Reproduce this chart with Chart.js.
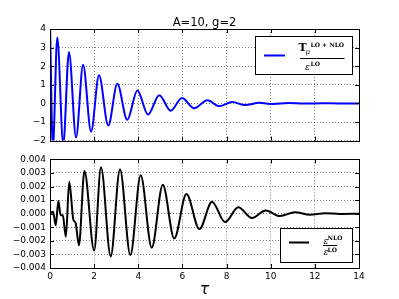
<!DOCTYPE html>
<html>
<head>
<meta charset="utf-8">
<script src="https://cdn.jsdelivr.net/npm/chart.js@4/dist/chart.umd.min.js"></script>
<style>
  html, body { margin: 0; padding: 0; background: #fff; }
  #top { position: absolute; left: 0; top: 0; width: 399px; height: 150px; }
  #bot { position: absolute; left: 0; top: 150px; width: 399px; height: 149px; }
</style>
</head>
<body>
<div id="top"><canvas id="c1"></canvas></div>
<div id="bot"><canvas id="c2"></canvas></div>
<script>
// tau at the turning points of the curves
var tauTop = [0, 0.13, 0.33, 0.60, 0.86, 1.18, 1.50, 1.86, 2.22, 2.64, 3.05, 3.50, 3.96, 4.44, 4.95, 5.47, 5.98, 6.53, 7.13, 7.67, 8.26, 8.84, 9.48, 10.1, 10.8, 11.5, 12.3, 13.1, 14];
var traceRatio = [4.3, -2.4, 3.54, -2.2, 2.77, -1.83, 2.08, -1.52, 1.51, -1.19, 1.05, -0.88, 0.70, -0.60, 0.44, -0.39, 0.29, -0.26, 0.17, -0.15, 0.07, -0.09, 0.03, -0.03, 0.02, -0.01, 0.01, -0.005, 0];

var tauBot = [0, 0.14, 0.26, 0.38, 0.48, 0.58, 0.72, 0.87, 1.06, 1.16, 1.31, 1.56, 2.00, 2.31, 2.75, 3.17, 3.64, 4.11, 4.61, 5.11, 5.63, 6.18, 6.77, 7.34, 7.93, 8.53, 9.15, 9.77, 10.42, 11.10, 11.78, 12.46, 13.14, 14];
var epsRatio = [0, 0.00014, -0.00085, 0.00094, -0.0001, -0.00012, -0.0017, 0.00235, -0.00044, -0.00067, -0.00232, 0.00315, -0.00272, 0.00342, -0.00315, 0.00328, -0.00305, 0.00283, -0.00251, 0.00214, -0.00182, 0.00145, -0.00113, 0.00088, -0.00062, 0.00048, -0.00032, 0.00023, -0.00017, 0.00011, -0.00007, 0.00004, -0.00002, 0];

var xTicks = [0, 2, 4, 6, 8, 10, 12, 14];
var title = 'A=10, g=2';

function pts(xs, ys) {
  var out = [];
  for (var i = 0; i < xs.length; i++) out.push({x: xs[i], y: ys[i]});
  return out;
}

function minus(s) { return s.replace('-', '\u2212'); }

var tickFont = {family: 'DejaVu Sans', size: 9};
var gridOpts = {color: 'rgba(0,0,0,0.5)', lineWidth: 1, drawTicks: false};
var borderOpts = {display: false, dash: [1, 2]};

// black frame plus matplotlib style inward ticks on all four sides
var frame = {
  id: 'frame',
  afterDraw: function(chart) {
    var c = chart.ctx, a = chart.chartArea;
    var sx = chart.scales.x, sy = chart.scales.y;
    c.save();
    c.strokeStyle = '#000';
    c.lineWidth = 1;
    c.beginPath();
    sx.ticks.forEach(function(t) {
      var px = Math.round(sx.getPixelForValue(t.value)) + 0.5;
      c.moveTo(px, a.top); c.lineTo(px, a.top + 4);
      c.moveTo(px, a.bottom); c.lineTo(px, a.bottom - 4);
    });
    sy.ticks.forEach(function(t) {
      var py = Math.round(sy.getPixelForValue(t.value)) + 0.5;
      c.moveTo(a.left, py); c.lineTo(a.left + 4, py);
      c.moveTo(a.right, py); c.lineTo(a.right - 4, py);
    });
    c.stroke();
    c.strokeRect(Math.round(a.left) + 0.5, Math.round(a.top) + 0.5,
                 Math.round(a.right - a.left), Math.round(a.bottom - a.top));
    c.restore();
  }
};

function legendBox(c, x, y, w, h) {
  c.fillStyle = '#fff';
  c.fillRect(x, y, w, h);
  c.strokeStyle = '#000';
  c.lineWidth = 1;
  c.strokeRect(x + 0.5, y + 0.5, w, h);
}

var topExtras = {
  id: 'topExtras',
  afterDraw: function(chart) {
    var c = chart.ctx;
    c.save();
    c.fillStyle = '#000';
    c.font = '11.5px "DejaVu Sans"';
    c.textAlign = 'center';
    c.textBaseline = 'alphabetic';
    c.fillText(title, (chart.chartArea.left + chart.chartArea.right) / 2, 26);

    legendBox(c, 255, 36, 97, 38);
    c.strokeStyle = 'rgb(0,0,255)';
    c.lineWidth = 2;
    c.beginPath(); c.moveTo(264, 55.5); c.lineTo(285, 55.5); c.stroke();

    c.fillStyle = '#000';
    c.textAlign = 'left';
    c.font = 'bold 11px "DejaVu Serif"';
    c.fillText('T', 298.5, 51);
    c.font = 'italic 7px "DejaVu Serif"';
    c.fillText('\u03bc', 305.5, 54);
    c.font = 'bold 6px "DejaVu Serif"';
    c.fillText('LO + NLO', 310.5, 47);
    c.strokeStyle = '#000';
    c.lineWidth = 1;
    c.beginPath(); c.moveTo(300, 58.5); c.lineTo(344.5, 58.5); c.stroke();
    c.font = 'italic 9px "DejaVu Serif"';
    c.fillText('\u03b5', 305, 69.5);
    c.font = 'bold 6px "DejaVu Serif"';
    c.fillText('LO', 310.5, 66);
    c.restore();
  }
};

var botExtras = {
  id: 'botExtras',
  afterDraw: function(chart) {
    var c = chart.ctx;
    c.save();
    c.fillStyle = '#000';
    c.font = 'italic 15px "DejaVu Sans"';
    c.textAlign = 'center';
    c.textBaseline = 'middle';
    c.fillText('\u03c4', (chart.chartArea.left + chart.chartArea.right) / 2, 140);

    legendBox(c, 280, 78, 72, 34);
    c.strokeStyle = '#000';
    c.lineWidth = 2;
    c.beginPath(); c.moveTo(289, 92.5); c.lineTo(309, 92.5); c.stroke();

    c.fillStyle = '#000';
    c.textAlign = 'left';
    c.textBaseline = 'alphabetic';
    c.font = 'italic 9px "DejaVu Serif"';
    c.fillText('\u03b5', 323.5, 93.5);
    c.fillText('\u03b5', 323.5, 105);
    c.font = 'bold 6px "DejaVu Serif"';
    c.fillText('NLO', 327.5, 89.5);
    c.fillText('LO', 327.5, 102);
    c.lineWidth = 1;
    c.beginPath(); c.moveTo(323, 95.5); c.lineTo(337, 95.5); c.stroke();
    c.restore();
  }
};

new Chart(document.getElementById('c1'), {
  type: 'line',
  data: {
    datasets: [{
      data: pts(tauTop, traceRatio),
      borderColor: 'rgb(0,0,255)',
      borderWidth: 2,
      pointRadius: 0,
      fill: false,
      cubicInterpolationMode: 'monotone'
    }]
  },
  options: {
    responsive: true,
    maintainAspectRatio: false,
    animation: false,
    layout: {padding: {top: 29, right: 40, left: 0, bottom: 0}},
    plugins: {legend: {display: false}, tooltip: {enabled: false}},
    scales: {
      x: {
        type: 'linear', min: 0, max: 14,
        afterBuildTicks: function(s) { s.ticks = xTicks.map(function(v) { return {value: v}; }); },
        ticks: {display: false},
        grid: gridOpts, border: borderOpts,
        afterFit: function(s) { s.height = 4; }
      },
      y: {
        min: -2, max: 4,
        ticks: {stepSize: 1, autoSkip: false, color: '#000', font: tickFont, padding: 4,
          callback: function(v) { return minus(String(v)); }},
        grid: gridOpts, border: borderOpts,
        afterFit: function(s) { s.width = 50; }
      }
    }
  },
  plugins: [frame, topExtras]
});

new Chart(document.getElementById('c2'), {
  type: 'line',
  data: {
    datasets: [{
      data: pts(tauBot, epsRatio),
      borderColor: '#000',
      borderWidth: 2,
      pointRadius: 0,
      fill: false,
      cubicInterpolationMode: 'monotone'
    }]
  },
  options: {
    responsive: true,
    maintainAspectRatio: false,
    animation: false,
    layout: {padding: {top: 2, right: 40, left: 0, bottom: 0}},
    plugins: {legend: {display: false}, tooltip: {enabled: false}},
    scales: {
      x: {
        type: 'linear', min: 0, max: 14,
        afterBuildTicks: function(s) { s.ticks = xTicks.map(function(v) { return {value: v}; }); },
        ticks: {color: '#000', font: tickFont, padding: 3, maxRotation: 0, autoSkip: false,
          callback: function(v) { return String(v); }},
        grid: gridOpts, border: borderOpts,
        afterFit: function(s) { s.height = 31; }
      },
      y: {
        min: -0.004, max: 0.004,
        ticks: {stepSize: 0.001, autoSkip: false, color: '#000', font: tickFont, padding: 4,
          callback: function(v) { return Math.abs(v) < 1e-9 ? '0.000' : minus(v.toFixed(3)); }},
        grid: gridOpts, border: borderOpts,
        afterFit: function(s) { s.width = 50; }
      }
    }
  },
  plugins: [frame, botExtras]
});
</script>
</body>
</html>
